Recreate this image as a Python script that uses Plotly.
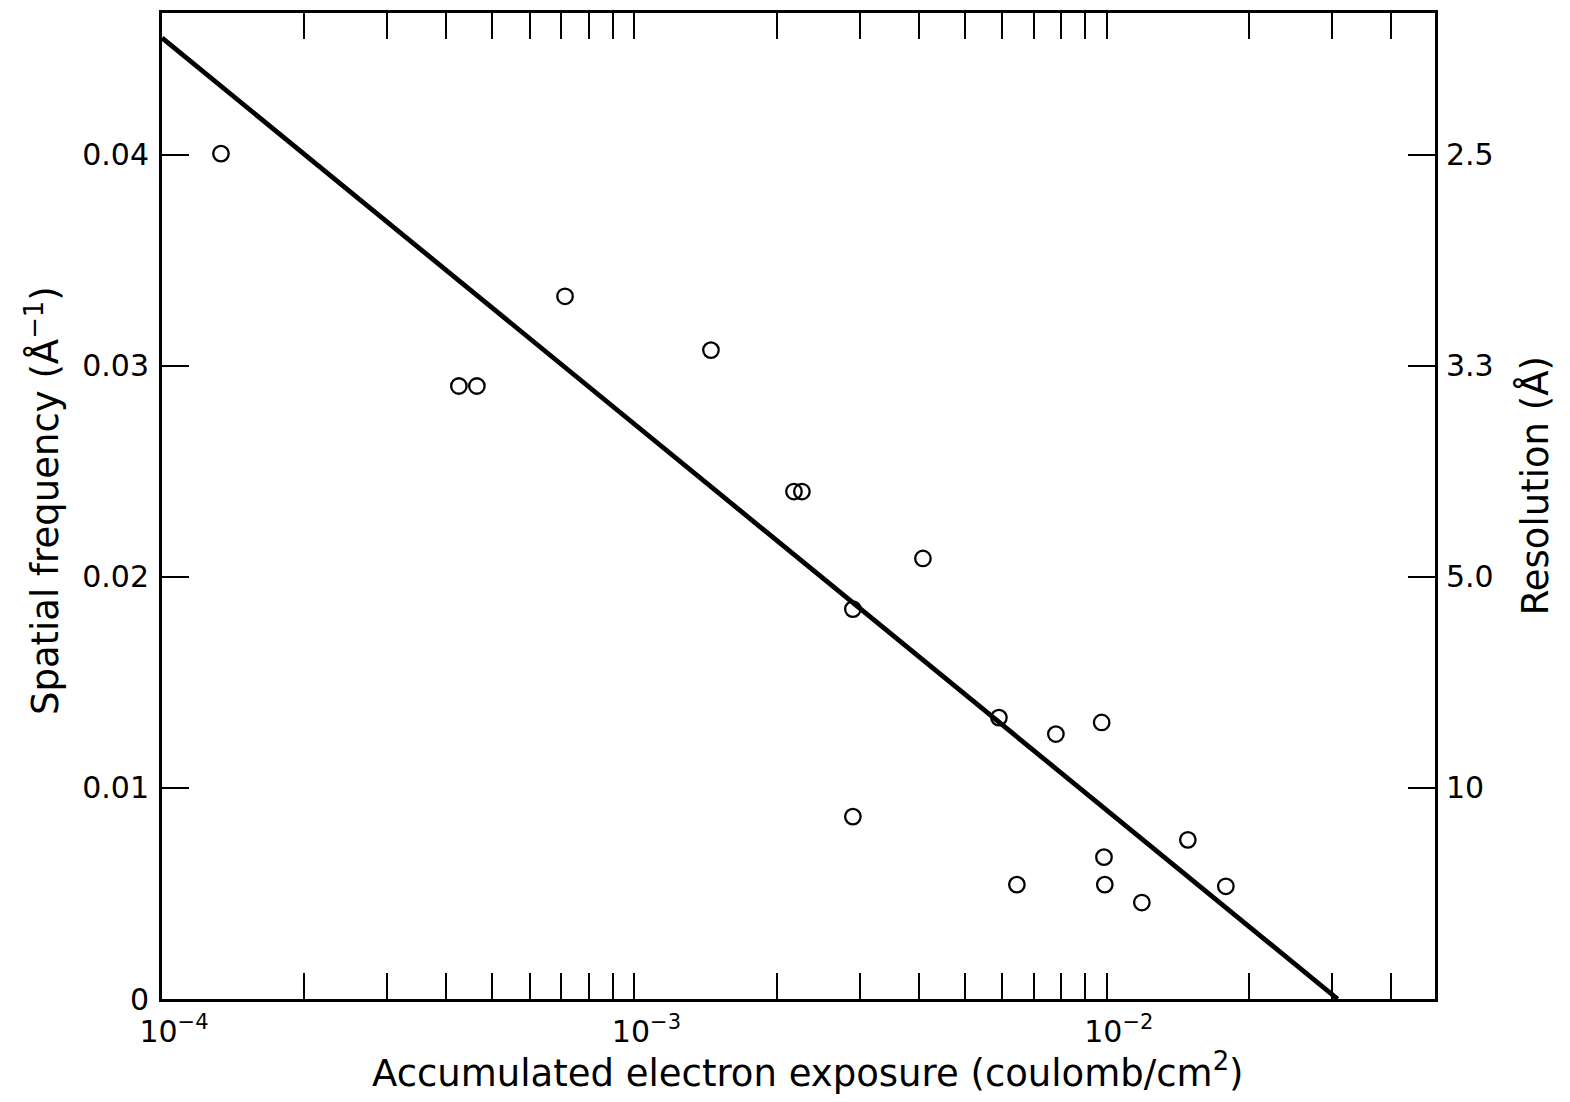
import plotly.graph_objects as go

# Data
exposure = [1.333e-4, 4.25e-4, 4.64e-4, 7.13e-4, 1.452e-3, 2.176e-3, 2.262e-3,
            4.08e-3, 2.90e-3, 2.90e-3, 5.91e-3, 7.80e-3, 9.75e-3, 6.45e-3,
            9.86e-3, 9.90e-3, 1.186e-2, 1.484e-2, 1.786e-2]
spatial_freq = [0.04005, 0.02904, 0.02904, 0.03329, 0.03074, 0.02404, 0.02404,
                0.02087, 0.01847, 0.00864, 0.01333, 0.01255, 0.0131, 0.00542,
                0.00672, 0.00542, 0.00457, 0.00754, 0.00534]

fit_x = [1.0e-4, 3.08e-2]
fit_y = [0.04553, 0.0]

decades = [1e-4, 1e-3, 1e-2]
decade_labels = ["10<sup>−4</sup>", "10<sup>−3</sup>", "10<sup>−2</sup>"]
minor_ticks = [m * d for d in decades for m in range(2, 10) if m * d <= 0.0495]

y_ticks = [0, 0.01, 0.02, 0.03, 0.04]
y_text = ["0", "0.01", "0.02", "0.03", "0.04"]
res_ticks = [0.04, 0.03, 0.02, 0.01]
res_text = ["2.5", "3.3", "5.0", "10"]

x_title = "Accumulated electron exposure (coulomb/cm<sup>2</sup>)"
y_title = "Spatial frequency (Å<sup>−1</sup>)"
y2_title = "Resolution (Å)"

FONT = "DejaVu Sans"
TICK_SIZE = 30
TITLE_SIZE = 37

fig = go.Figure()
fig.add_trace(go.Scatter(x=fit_x, y=fit_y, mode="lines",
                         line=dict(color="black", width=4.8), showlegend=False))
fig.add_trace(go.Scatter(x=exposure, y=spatial_freq, mode="markers",
                         marker=dict(symbol="circle-open", size=15.5, color="black",
                                     line=dict(width=2.3, color="black")),
                         showlegend=False))
fig.add_trace(go.Scatter(x=[None], y=[None], yaxis="y2", showlegend=False))

yr = [0, 0.04671]
fig.update_layout(
    width=1554, height=1086,
    margin=dict(l=154, r=127, t=2, b=95),
    paper_bgcolor="white", plot_bgcolor="white",
    font=dict(family=FONT, color="black", size=TICK_SIZE),
    xaxis=dict(type="log", range=[-4, -1.3054],
               tickmode="array", tickvals=decades, ticktext=decade_labels,
               ticks="inside", ticklen=26, tickwidth=2, tickcolor="black",
               minor=dict(tickmode="array", tickvals=minor_ticks, ticks="inside",
                          ticklen=26, tickwidth=2, tickcolor="black", showgrid=False),
               showline=True, linecolor="black", linewidth=3, mirror="ticks",
               showgrid=False, zeroline=False,
               ticklabelshift=12, ticklabelstandoff=4,
               tickfont=dict(size=TICK_SIZE)),
    yaxis=dict(range=yr, tickvals=y_ticks, ticktext=y_text,
               ticks="inside", ticklen=27, tickwidth=2, tickcolor="black",
               showline=True, linecolor="black", linewidth=3, mirror=True,
               showgrid=False, zeroline=False,
               ticklabelstandoff=4,
               tickfont=dict(size=TICK_SIZE)),
    yaxis2=dict(range=yr, overlaying="y", side="right",
                tickvals=res_ticks, ticktext=res_text,
                ticks="inside", ticklen=27, tickwidth=2, tickcolor="black",
                showline=False, showgrid=False, zeroline=False,
                ticklabelstandoff=10,
                tickfont=dict(size=TICK_SIZE)),
    annotations=[
        dict(text=x_title, xref="paper", yref="paper", x=0.5075, y=0,
             xanchor="center", yanchor="middle", yshift=-71, showarrow=False,
             font=dict(size=TITLE_SIZE)),
        dict(text=y_title, xref="paper", yref="paper", x=0, y=0.505,
             xanchor="center", yanchor="middle", xshift=-119, textangle=-90,
             showarrow=False, font=dict(size=TITLE_SIZE)),
        dict(text=y2_title, xref="paper", yref="paper", x=1, y=0.52,
             xanchor="center", yanchor="middle", xshift=100, textangle=-90,
             showarrow=False, font=dict(size=TITLE_SIZE)),
    ],
)

fig.write_html("out.html")
